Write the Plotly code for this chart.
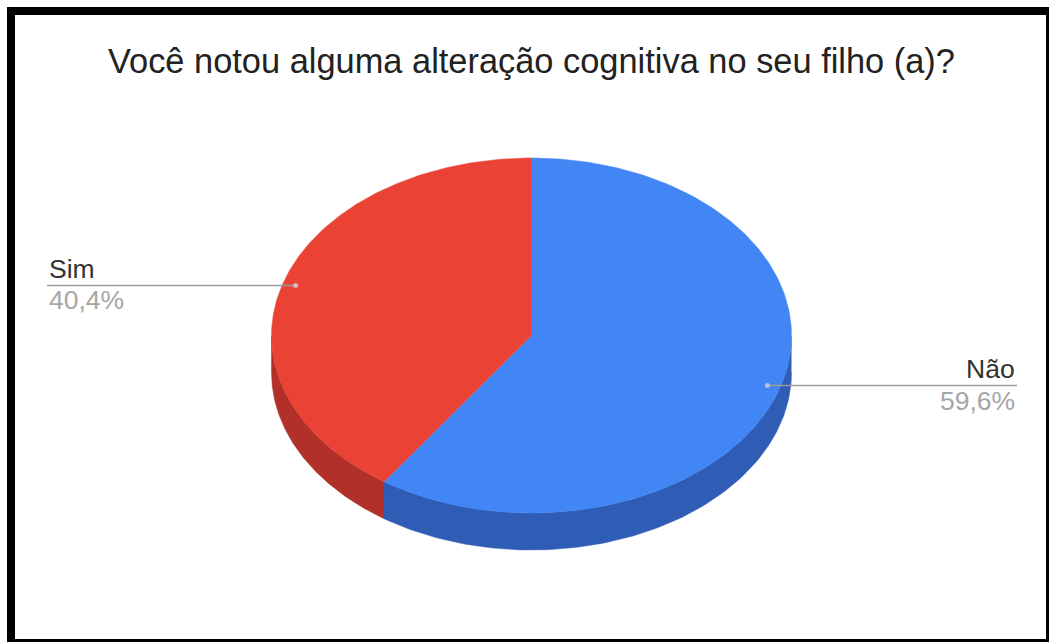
import numpy as np
import plotly.graph_objects as go

# Data
labels = ["Não", "Sim"]
values = [59.6, 40.4]
pct_text = ["59,6%", "40,4%"]
top_colors = ["#4285f4", "#ea4335"]
side_colors = ["#2f5db5", "#b1302a"]
title = "Você notou alguma alteração cognitiva no seu filho (a)?"

# Canvas / pie geometry (pixel units on hidden axes)
W, H = 1049, 642
cx, cy = 531.5, 335.5
rx, ry = 260.0, 177.5
depth = 37.0
label_r = 0.95
FONT = "Liberation Sans, Arial, sans-serif"


def pt(theta, r=1.0, dy=0.0):
    """Point on the ellipse; theta in degrees clockwise from 12 o'clock."""
    t = np.radians(theta)
    return cx + rx * r * np.sin(t), cy - ry * r * np.cos(t) + dy


fig = go.Figure()

# slice angle ranges
total = sum(values)
bounds = []
a = 0.0
for v in values:
    b = a + 360.0 * v / total
    bounds.append((a, b))
    a = b

# side walls (only the front half of the cylinder is visible)
for (a0, a1), col in zip(bounds, side_colors):
    s, e = max(a0, 90.0), min(a1, 270.0)
    if e <= s:
        continue
    th = np.linspace(s, e, 120)
    xt, yt = pt(th)
    xb, yb = pt(th[::-1], dy=depth)
    fig.add_trace(go.Scatter(
        x=np.concatenate([xt, xb]), y=np.concatenate([yt, yb]),
        fill="toself", fillcolor=col, mode="lines",
        line=dict(color=col, width=0.5), hoverinfo="skip", showlegend=False))

# top faces
for (a0, a1), col in zip(bounds, top_colors):
    th = np.linspace(a0, a1, 240)
    xs, ys = pt(th)
    fig.add_trace(go.Scatter(
        x=np.concatenate([[cx], xs, [cx]]), y=np.concatenate([[cy], ys, [cy]]),
        fill="toself", fillcolor=col, mode="lines",
        line=dict(color=col, width=0.5), hoverinfo="skip", showlegend=False))

# leader lines, dots and labels
annotations = []
for (a0, a1), name, pct in zip(bounds, labels, pct_text):
    mid = (a0 + a1) / 2.0
    dx, dyp = pt(mid, r=label_r)
    right = np.sin(np.radians(mid)) > 0
    if right:
        x_end, anchor = 1017.0, "right"
    else:
        x_end, anchor = 47.0, "left"
    fig.add_trace(go.Scatter(
        x=[dx, x_end], y=[dyp, dyp], mode="lines",
        line=dict(color="#9a9a9a", width=1.5),
        hoverinfo="skip", showlegend=False))
    fig.add_trace(go.Scatter(
        x=[dx], y=[dyp], mode="markers",
        marker=dict(size=5, color="rgba(215,215,215,0.75)"),
        hoverinfo="skip", showlegend=False))
    annotations.append(dict(
        x=x_end, y=dyp - 16.5, xref="x", yref="y", text=name,
        showarrow=False, xanchor=anchor, yanchor="middle",
        font=dict(family=FONT, size=26.5, color="#333333")))
    annotations.append(dict(
        x=x_end, y=dyp + 15, xref="x", yref="y", text=pct,
        showarrow=False, xanchor=anchor, yanchor="middle",
        font=dict(family=FONT, size=26.5, color="#a6a6a6")))

annotations.append(dict(
    x=cx, y=61, xref="x", yref="y", text=title, showarrow=False,
    xanchor="center", yanchor="middle",
    font=dict(family=FONT, size=34.4, color="#222222")))

shapes = [
    dict(type="rect", xref="x", yref="y", x0=7, y0=7, x1=W + 5, y1=H + 5,
         fillcolor="black", line=dict(width=0), layer="below"),
    dict(type="rect", xref="x", yref="y", x0=15, y0=15, x1=1046, y1=639,
         fillcolor="white", line=dict(width=0), layer="below"),
]

fig.update_layout(
    width=W, height=H, autosize=False,
    margin=dict(l=0, r=0, t=0, b=0, pad=0),
    paper_bgcolor="white", plot_bgcolor="white",
    xaxis=dict(range=[0, W], visible=False, fixedrange=True),
    yaxis=dict(range=[H, 0], visible=False, fixedrange=True),
    annotations=annotations, shapes=shapes, showlegend=False,
)

fig.write_html("out.html", config={"displayModeBar": False})
